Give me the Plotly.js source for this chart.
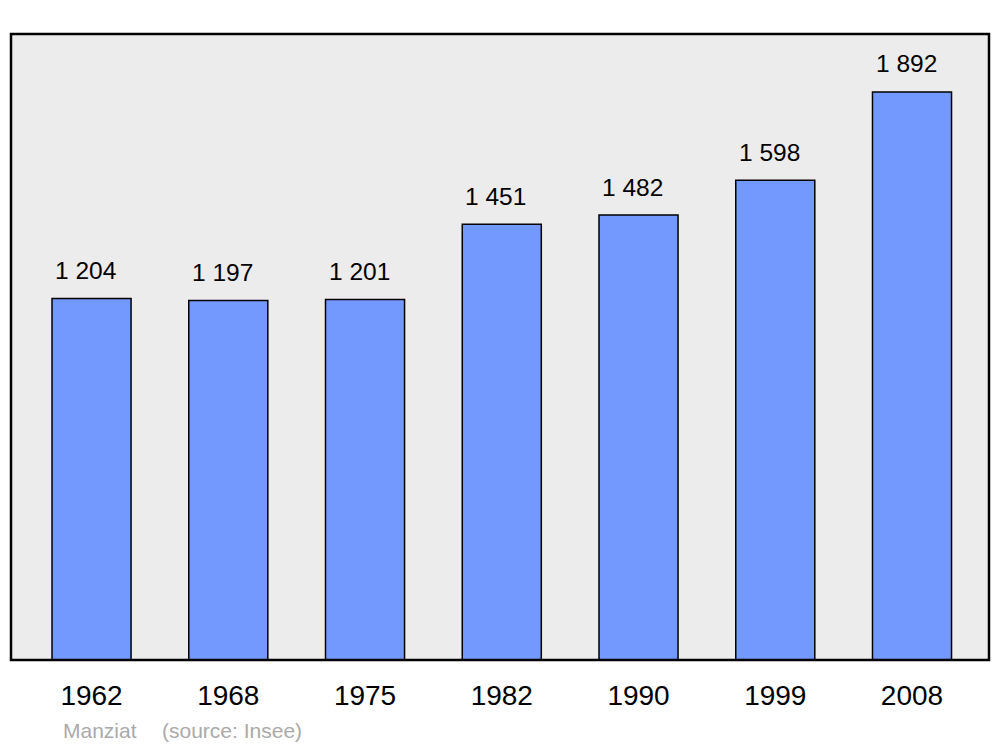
<!DOCTYPE html>
<html>
<head>
<meta charset="utf-8">
<script src="https://cdn.plot.ly/plotly-3.0.1.min.js"></script>
<style>html,body{margin:0;padding:0;background:#fff;}#chart{width:1000px;height:747px;}</style>
</head>
<body>
<div id="chart"></div>
<script>
const years = ["1962", "1968", "1975", "1982", "1990", "1999", "2008"];
const population = [1204, 1197, 1201, 1451, 1482, 1598, 1892];
const valueLabels = ["1 204", "1 197", "1 201", "1 451", "1 482", "1 598", "1 892"];
const placeName = "Manziat";
const sourceText = "(source: Insee)";

const trace = {
  type: "bar",
  x: years,
  y: population,
  width: 0.578,
  marker: {color: "#7399ff", line: {color: "#000", width: 1.5}},
  hoverinfo: "skip"
};

const annotations = years.map((yr, i) => ({
  x: i, y: population[i], xref: "x", yref: "y",
  text: valueLabels[i], showarrow: false,
  yanchor: "middle", yshift: 28, xshift: -6,
  font: {family: "Liberation Sans, Arial, sans-serif", size: 24.5, color: "#000"}
}));
annotations.push({
  xref: "paper", yref: "paper", x: (61 - 11) / 978, y: -0.112, xanchor: "left", yanchor: "middle",
  text: placeName, showarrow: false,
  font: {family: "Liberation Sans, Arial, sans-serif", size: 21, color: "#aaaaaa"}
});
annotations.push({
  xref: "paper", yref: "paper", x: (160 - 11) / 978, y: -0.112, xanchor: "left", yanchor: "middle",
  text: sourceText, showarrow: false,
  font: {family: "Liberation Sans, Arial, sans-serif", size: 21, color: "#aaaaaa"}
});

const layout = {
  width: 1000, height: 747,
  margin: {l: 11, r: 11, t: 34, b: 87, pad: 0},
  paper_bgcolor: "#ffffff",
  plot_bgcolor: "#ececec",
  showlegend: false,
  xaxis: {
    type: "category", range: [-0.589, 6.563],
    showgrid: false, zeroline: false, showline: false, ticks: "",
    tickfont: {family: "Liberation Sans, Arial, sans-serif", size: 28, color: "#000"},
    ticklabelstandoff: 16
  },
  yaxis: {
    range: [0, 2085], showgrid: false, zeroline: false, showline: false,
    showticklabels: false, ticks: ""
  },
  shapes: [{
    type: "rect", xref: "paper", yref: "paper", x0: 0, x1: 1, y0: 0, y1: 1,
    line: {color: "#000", width: 2.5}, layer: "above"
  }],
  annotations: annotations
};

Plotly.newPlot("chart", [trace], layout, {staticPlot: true, displayModeBar: false});
</script>
</body>
</html>
